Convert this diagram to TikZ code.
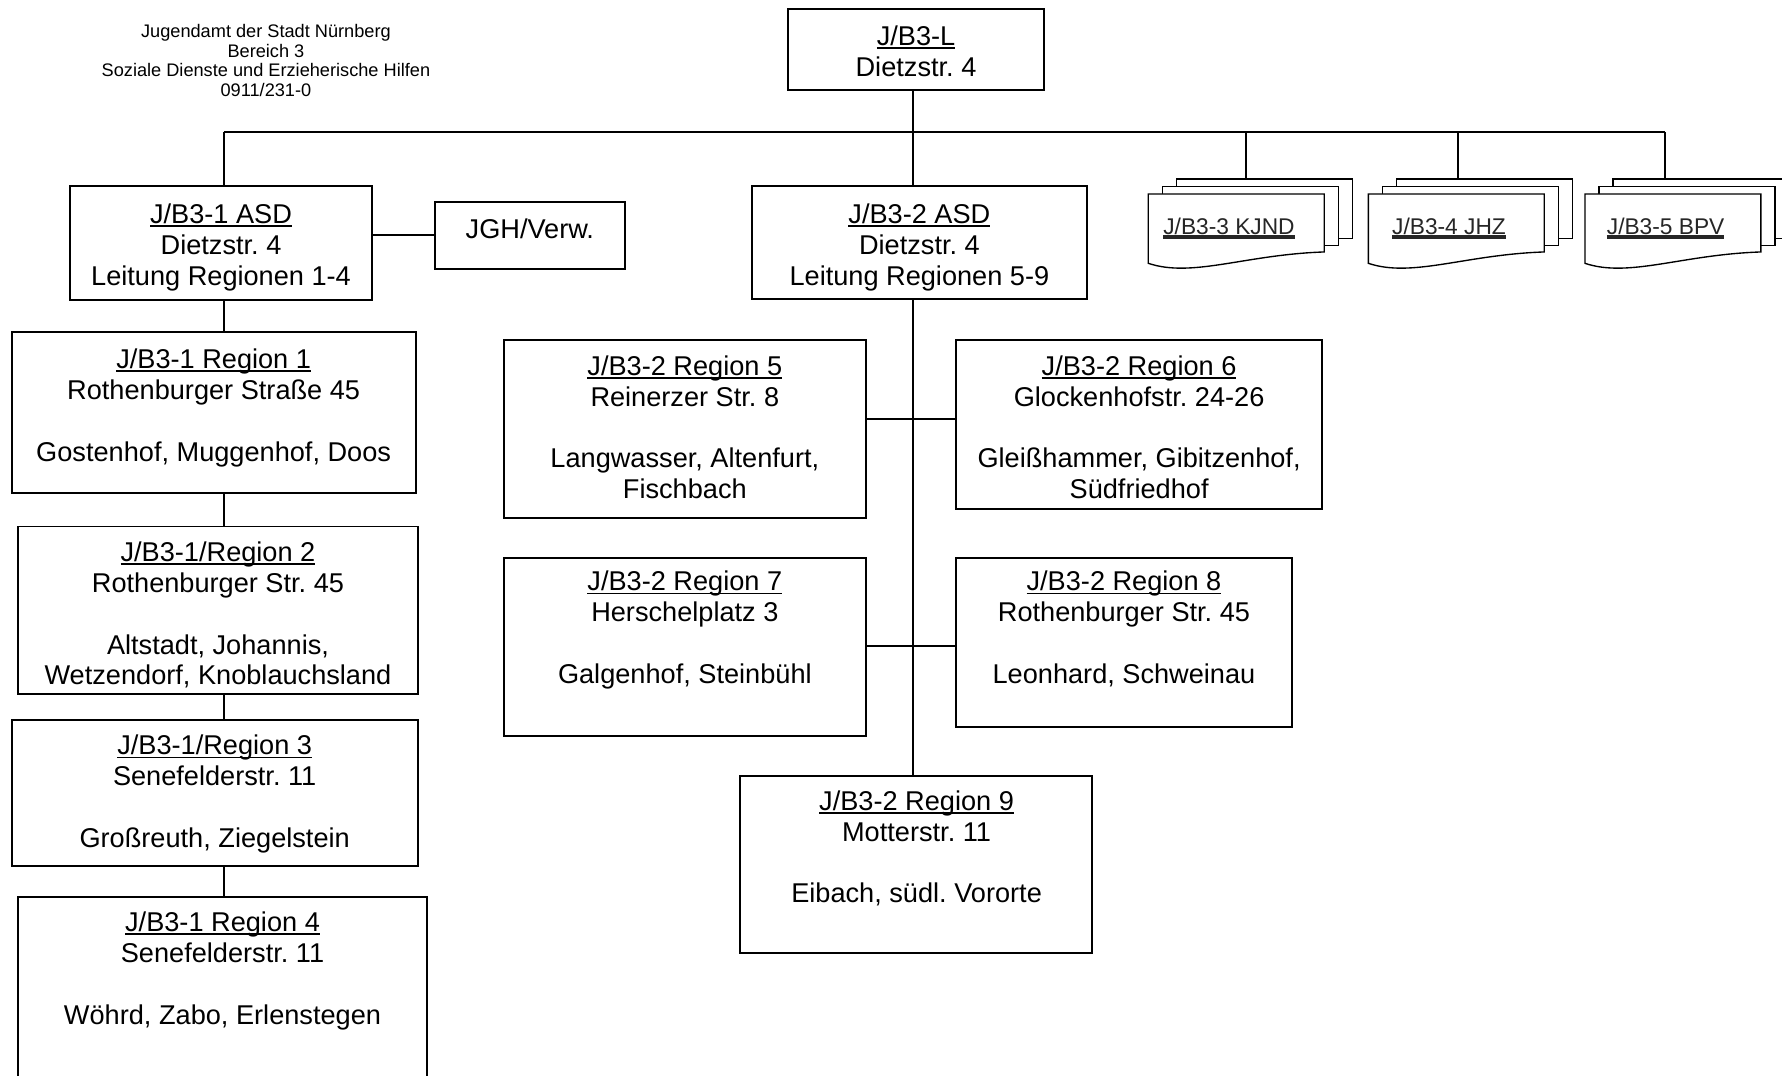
\documentclass[tikz,border=0pt]{standalone}
\usepackage{fontspec}
\setmainfont{Liberation Sans}
\usetikzlibrary{fit}
\frenchspacing
\newsavebox{\ulbox}
\newcommand{\ulthin}[1]{\sbox{\ulbox}{#1}\rlap{\rule[-1.5pt]{\wd\ulbox}{0.75pt}}\usebox{\ulbox}}
\newcommand{\ulthick}[1]{\sbox{\ulbox}{#1}\rlap{\rule[-1.9pt]{\wd\ulbox}{1.4pt}}\usebox{\ulbox}}
\tikzset{
 orgbox/.style={draw=black, line width=0.85pt, fill=white, inner sep=0pt},
 boxtext/.style={inner sep=0pt, align=center, anchor=north, font=\fontsize{11.95pt}{13.6pt}\selectfont},
 boxline/.style={inner sep=0pt, anchor=base, font=\fontsize{11.95pt}{13.6pt}\selectfont},
 conn/.style={draw=black, line width=0.85pt},
 sheet/.style={draw=black, line width=0.6pt, fill=white, inner sep=0pt},
 sheettext/.style={inner sep=0pt, anchor=base, font=\fontsize{10pt}{12pt}\selectfont, text=black!85},
 headtext/.style={inner sep=0pt, align=center, anchor=north, font=\fontsize{8pt}{8.6pt}\selectfont},
}
\newcommand{\docstack}[3]{%
 \begin{scope}[shift={(#2,170.7)}]
  \node[sheet, fit={(24.8,-13.2) (179.6,39.0)}] (#1b) {};
  \node[sheet, fit={(12.5,-6.4) (167.3,45.5)}] (#1m) {};
  \draw[sheet] (0,0) -- (154.8,0) -- (154.8,51) .. controls (85.1,53.3) and (38.7,74) .. (0,61) -- cycle;
  \node[sheettext] (#1) at (71,35.5) {\ulthick{#3}};
 \end{scope}}
\begin{document}
\begin{tikzpicture}[x=0.5pt, y=-0.5pt]
\useasboundingbox (0,0) rectangle (1568,946);
\clip (0,0) rectangle (1568,946);

% header
\node[headtext] (head) at (234,21.1) {Jugendamt der Stadt Nürnberg\\Bereich 3\\Soziale Dienste und Erzieherische Hilfen\\0911/231-0};

% boxes
\node[orgbox, fit={(693.5,8) (918.5,79.5)}] (L) {};
\node[orgbox, fit={(62,163.5) (327,264)}] (ASD1) {};
\node[orgbox, fit={(382.6,177.7) (549.7,236.4)}] (JGH) {};
\node[orgbox, fit={(661.4,163.7) (956.7,263.4)}] (ASD2) {};
\node[orgbox, fit={(10.2,291.9) (365.8,434)}] (R1) {};
\node[orgbox, fit={(16.1,463.3) (367.5,611)}] (R2) {};
\node[orgbox, fit={(10.3,633.5) (367.5,762)}] (R3) {};
\node[orgbox, fit={(16.1,789.3) (375.4,980)}] (R4) {};
\node[orgbox, fit={(443.1,299.2) (762,456)}] (R5) {};
\node[orgbox, fit={(841.3,299.2) (1163.3,447.9)}] (R6) {};
\node[orgbox, fit={(443.1,491.3) (762,647.6)}] (R7) {};
\node[orgbox, fit={(841.3,491.3) (1136.7,639.4)}] (R8) {};
\node[orgbox, fit={(651.1,682.5) (960.6,838.2)}] (R9) {};

% texts
\node[boxtext] (Lt) at (806,22.2) {\ulthin{J/B3-L}\\Dietzstr. 4};
\node[boxtext] (ASD1t) at (194.5,178.9) {\ulthin{J/B3-1 ASD}\\Dietzstr. 4\\Leitung Regionen 1-4};
\node[boxline] (JGHt) at (466.2,209.5) {JGH/Verw.};
\node[boxtext] (ASD2t) at (809,178.9) {\ulthin{J/B3-2 ASD}\\Dietzstr. 4\\Leitung Regionen 5-9};
\node[boxtext] (R1t) at (188,306.5) {\ulthin{J/B3-1 Region 1}\\Rothenburger Straße 45\\[13.6pt]Gostenhof, Muggenhof, Doos};
\node[boxtext] (R2t) at (191.8,476.2) {\ulthin{J/B3-1/Region 2}\\Rothenburger Str. 45\\[13.6pt]Altstadt, Johannis,\\Wetzendorf, Knoblauchsland};
\node[boxtext] (R3t) at (188.9,646.5) {\ulthin{J/B3-1/Region 3}\\Senefelderstr. 11\\[13.6pt]Großreuth, Ziegelstein};
\node[boxtext] (R4t) at (195.8,801.8) {\ulthin{J/B3-1 Region 4}\\Senefelderstr. 11\\[13.6pt]Wöhrd, Zabo, Erlenstegen};
\node[boxtext] (R5t) at (602.6,312.4) {\ulthin{J/B3-2 Region 5}\\Reinerzer Str. 8\\[13.6pt]Langwasser, Altenfurt,\\Fischbach};
\node[boxtext] (R6t) at (1002.3,312.4) {\ulthin{J/B3-2 Region 6}\\Glockenhofstr. 24-26\\[13.6pt]Gleißhammer, Gibitzenhof,\\Südfriedhof};
\node[boxtext] (R7t) at (602.6,502.2) {\ulthin{J/B3-2 Region 7}\\Herschelplatz 3\\[13.6pt]Galgenhof, Steinbühl};
\node[boxtext] (R8t) at (989,502.2) {\ulthin{J/B3-2 Region 8}\\Rothenburger Str. 45\\[13.6pt]Leonhard, Schweinau};
\node[boxtext] (R9t) at (806.5,695.1) {\ulthin{J/B3-2 Region 9}\\Motterstr. 11\\[13.6pt]Eibach, südl. Vororte};

% document stacks
\docstack{KJND}{1010.4}{J/B3-3 KJND}
\docstack{JHZ}{1204}{J/B3-4 JHZ}
\docstack{BPV}{1394.6}{J/B3-5 BPV}

% connectors
\coordinate (busL) at (197,116);
\coordinate (busR) at (1465,116);
\coordinate (trunk) at (803.6,116);
\coordinate (s3) at (1096.4,116);
\coordinate (s4) at (1282.6,116);
\coordinate (h56) at (803.6,369);
\coordinate (h78) at (803.6,568.4);
\draw[conn] (L.south -| trunk) -- (trunk);
\draw[conn] (busL) -- (busR);
\draw[conn] (busL) -- (busL |- ASD1.north);
\draw[conn] (trunk) -- (trunk |- ASD2.north);
\draw[conn] (s3) -- (s3 |- KJNDb.north);
\draw[conn] (s4) -- (s4 |- JHZb.north);
\draw[conn] (busR) -- (busR |- BPVb.north);
\draw[conn] (JGH.west) -- (JGH.west -| ASD1.east);
\draw[conn] (ASD1.south -| busL) -- (R1.north -| busL);
\draw[conn] (R1.south -| busL) -- (R2.north -| busL);
\draw[conn] (R2.south -| busL) -- (R3.north -| busL);
\draw[conn] (R3.south -| busL) -- (R4.north -| busL);
\draw[conn] (ASD2.south -| trunk) -- (R9.north -| trunk);
\draw[conn] (h56 -| R5.east) -- (h56 -| R6.west);
\draw[conn] (h78 -| R7.east) -- (h78 -| R8.west);
\end{tikzpicture}
\end{document}
